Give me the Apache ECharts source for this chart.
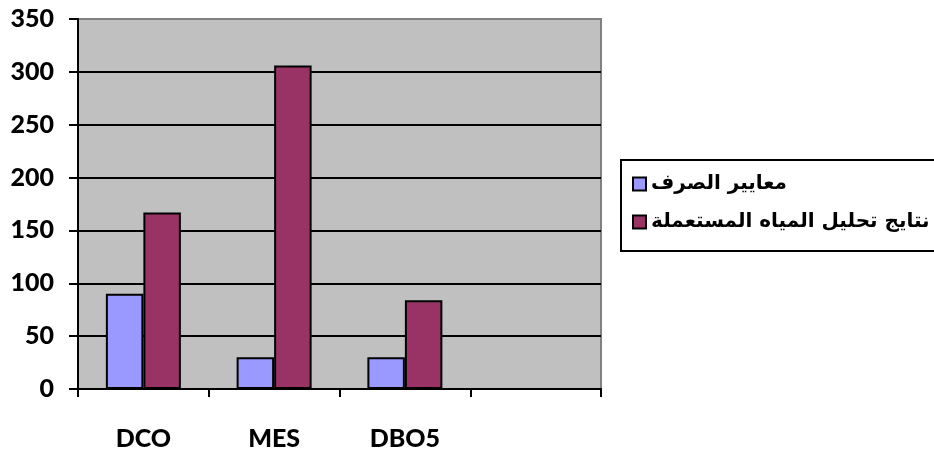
<!DOCTYPE html>
<html>
<head>
    <meta charset="utf-8">
    <title>chart</title>
    <script src="https://cdn.jsdelivr.net/npm/echarts@6/dist/echarts.min.js"></script>
    <style>
        body { margin: 0; background: #fff; }
        #main { width: 934px; height: 451px; }
    </style>
</head>
<body>
<div id="main"></div>
<script type="text/javascript">
// categories (last one is empty in the original)
var categories = ['DCO', 'MES', 'DBO5', ''];
var seriesNames = ['معايير الصرف', 'نتايج تحليل المياه المستعملة'];
var standards = [90, 30, 30, null];
var results = [167, 306, 84, null];

var myChart = echarts.init(document.getElementById('main'));
var option = {
    animation: false,
    textStyle: { fontFamily: 'Lato' },
    grid: {
        left: 78,
        right: 333,
        top: 19,
        bottom: 62,
        show: true,
        backgroundColor: '#C0C0C0',
        borderColor: '#808080',
        borderWidth: 2
    },
    legend: {
        orient: 'vertical',
        left: 621,
        top: 160,
        width: 360,
        align: 'left',
        icon: 'rect',
        padding: [14, 10, 19, 11],
        itemGap: 18,
        itemWidth: 13,
        itemHeight: 13,
        borderColor: '#000',
        borderWidth: 2,
        backgroundColor: '#fff',
        itemStyle: { borderColor: '#000', borderWidth: 2 },
        textStyle: {
            fontFamily: 'DejaVu Sans',
            fontWeight: 'bold',
            fontSize: 20,
            color: '#000'
        },
        data: seriesNames
    },
    xAxis: {
        type: 'category',
        data: categories,
        axisLine: { lineStyle: { color: '#000', width: 2 } },
        axisTick: { show: true, length: 8, lineStyle: { color: '#000', width: 2 } },
        axisLabel: {
            margin: 37,
            fontFamily: 'Lato',
            fontWeight: 900,
            fontSize: 25,
            color: '#000'
        }
    },
    yAxis: {
        type: 'value',
        min: 0,
        max: 350,
        interval: 50,
        axisLine: { show: true, lineStyle: { color: '#000', width: 2 } },
        axisTick: { show: true, length: 9, lineStyle: { color: '#000', width: 2 } },
        axisLabel: {
            margin: 24,
            fontFamily: 'Lato',
            fontWeight: 900,
            fontSize: 25,
            color: '#000'
        },
        splitLine: {
            show: true,
            showMaxLine: false,
            lineStyle: { color: '#000', width: 2 }
        }
    },
    series: [
        {
            name: seriesNames[0],
            type: 'bar',
            data: standards,
            barWidth: 37.5,
            barGap: '0%',
            itemStyle: { color: '#9999FF', borderColor: '#000', borderWidth: 2 }
        },
        {
            name: seriesNames[1],
            type: 'bar',
            data: results,
            barWidth: 37.5,
            barGap: '0%',
            itemStyle: { color: '#993366', borderColor: '#000', borderWidth: 2 }
        }
    ]
};
myChart.setOption(option);
</script>
</body>
</html>
